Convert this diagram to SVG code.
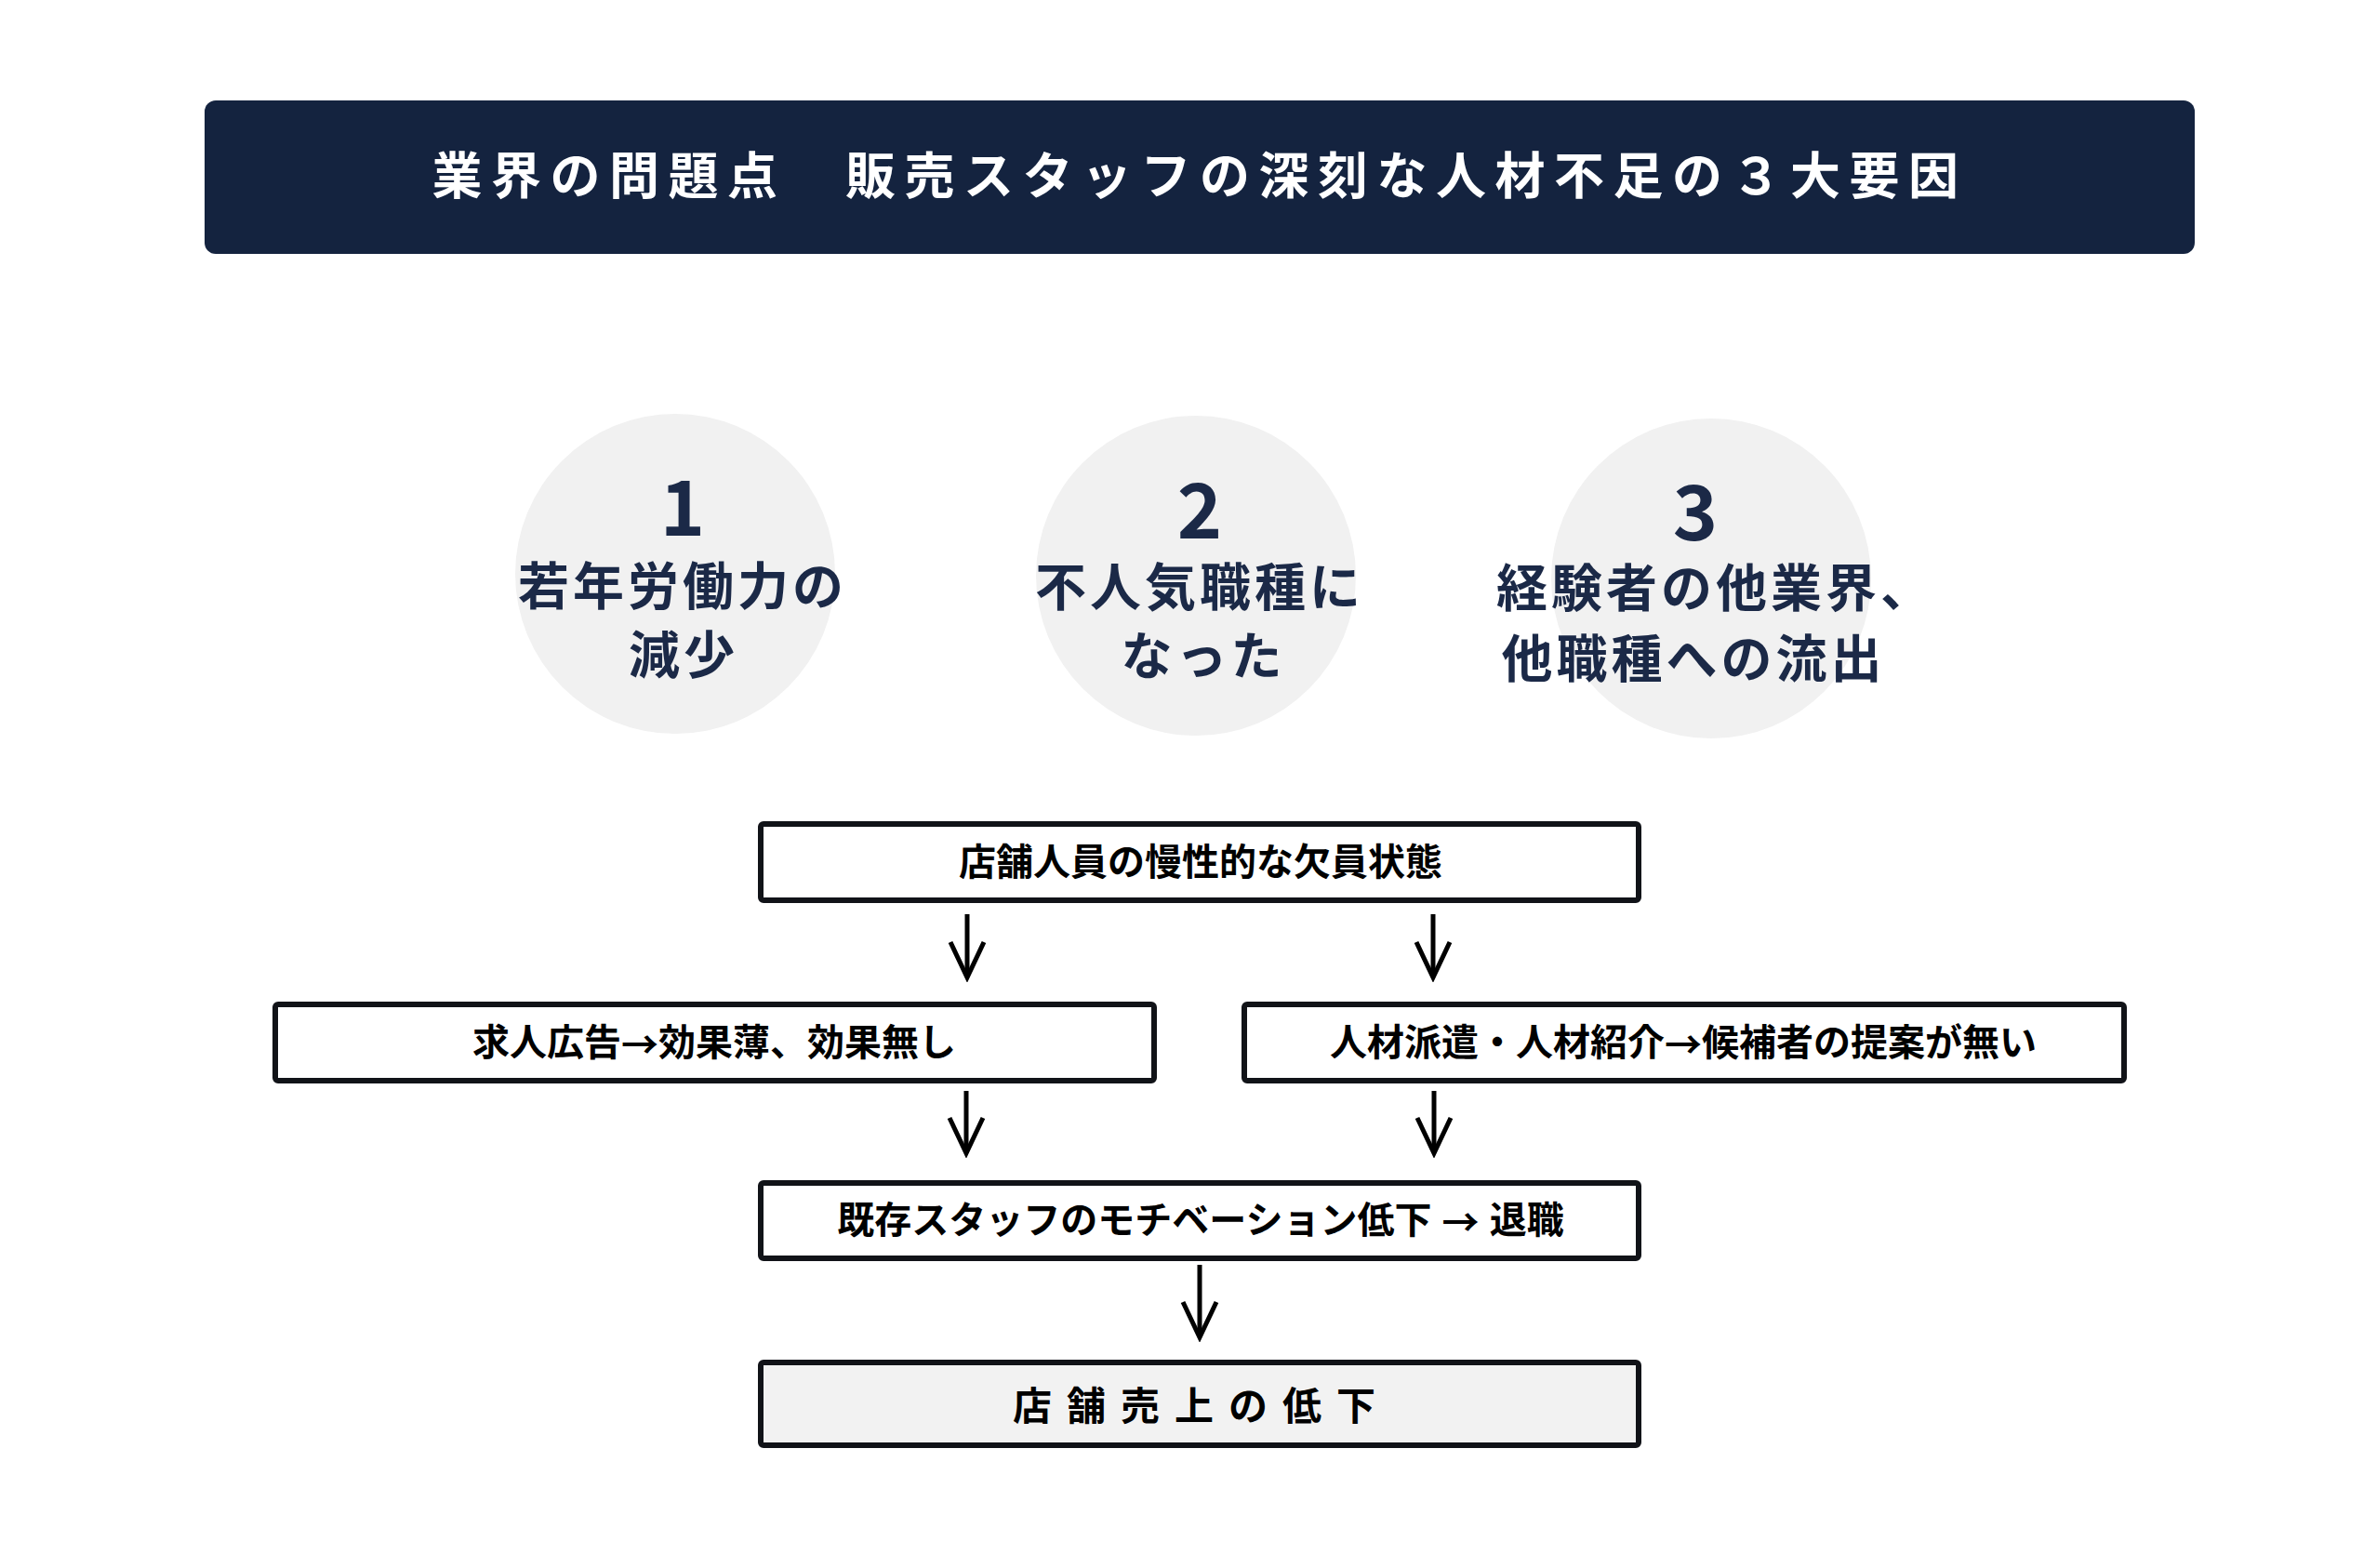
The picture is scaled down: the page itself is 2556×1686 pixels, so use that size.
<svg xmlns="http://www.w3.org/2000/svg" width="2556" height="1686" viewBox="0 0 2556 1686">
<style>
text{font-family:"Liberation Sans","Noto Sans CJK JP",sans-serif;font-weight:bold}
.cjk{font-family:"Noto Sans CJK JP","Liberation Sans",sans-serif}
.title{fill:#ffffff;font-size:54px;letter-spacing:9.5px}
.circ{fill:#f1f1f1}
.num{fill:#1b2947;font-size:82px;font-family:"Noto Sans CJK JP",sans-serif}
.ct{fill:#1b2947;font-size:55px;letter-spacing:4px}
.box{fill:#ffffff;stroke:#111318;stroke-width:6}
.box.last{fill:#f2f2f2}
.bt{fill:#000000;font-size:40px}
.bt.last{font-size:42px;letter-spacing:16px}
.conn line{stroke:#000;stroke-width:5}
</style>
<defs>
<marker id="ah" markerUnits="userSpaceOnUse" markerWidth="50" markerHeight="50" viewBox="-45 -25 50 50" refX="0" refY="0" orient="auto">
<path d="M-38 -18 L0 0 L-38 18" fill="none" stroke="#000" stroke-width="5"/>
</marker>
</defs>
<rect width="2556" height="1686" fill="#ffffff"/>
<g id="header">
<rect x="220" y="108" width="2140" height="165" rx="12" fill="#14233f"/>
<text class="title" x="1290" y="190" text-anchor="middle" dominant-baseline="central">業界の問題点　販売スタッフの深刻な人材不足の３大要因</text>
</g>
<g id="factor1">
<circle class="circ" cx="726" cy="617" r="172"/>
<text class="num" x="734" y="576" text-anchor="middle">1</text>
<text class="ct" x="734" y="631" text-anchor="middle" dominant-baseline="central">若年労働力の</text>
<text class="ct" x="735" y="705" text-anchor="middle" dominant-baseline="central">減少</text>
</g>
<g id="factor2">
<circle class="circ" cx="1286" cy="619" r="172"/>
<text class="num" x="1290" y="579" text-anchor="middle">2</text>
<text class="ct" x="1290" y="632" text-anchor="middle" dominant-baseline="central">不人気職種に</text>
<text class="ct" x="1294" y="706" text-anchor="middle" dominant-baseline="central">なった</text>
</g>
<g id="factor3">
<circle class="circ" cx="1840" cy="622" r="172"/>
<text class="num" x="1823" y="581" text-anchor="middle">3</text>
<text class="ct" x="1845" y="633" text-anchor="middle" dominant-baseline="central">経験者の他業界、</text>
<text class="ct" x="1821" y="709" text-anchor="middle" dominant-baseline="central">他職種への流出</text>
</g>
<g id="box-shortage">
<rect class="box" x="818" y="886" width="944" height="82" rx="3"/>
<text class="bt" x="1291" y="927" text-anchor="middle" dominant-baseline="central">店舗人員の慢性的な欠員状態</text>
</g>
<g id="box-ads">
<rect class="box" x="296" y="1080" width="945" height="82" rx="3"/>
<text class="bt" x="768" y="1121" text-anchor="middle" dominant-baseline="central">求人広告<tspan class="cjk">→</tspan>効果薄、効果無し</text>
</g>
<g id="box-agency">
<rect class="box" x="1338" y="1080" width="946" height="82" rx="3"/>
<text class="bt" x="1810" y="1121" text-anchor="middle" dominant-baseline="central">人材派遣・人材紹介<tspan class="cjk">→</tspan>候補者の提案が無い</text>
</g>
<g id="box-motivation">
<rect class="box" x="818" y="1272" width="944" height="81" rx="3"/>
<text class="bt" x="1291" y="1312" text-anchor="middle" dominant-baseline="central">既存スタッフのモチベーション低下 <tspan class="cjk">→</tspan> 退職</text>
</g>
<g id="box-sales">
<rect class="box last" x="818" y="1465" width="944" height="89" rx="3"/>
<text class="bt last" x="1292" y="1512" text-anchor="middle" dominant-baseline="central">店舗売上の低下</text>
</g>
<g id="connectors" class="conn">
<line x1="1040" y1="983" x2="1040" y2="1051" marker-end="url(#ah)"/>
<line x1="1541" y1="983" x2="1541" y2="1051" marker-end="url(#ah)"/>
<line x1="1039" y1="1173" x2="1039" y2="1240" marker-end="url(#ah)"/>
<line x1="1542" y1="1173" x2="1542" y2="1240" marker-end="url(#ah)"/>
<line x1="1290" y1="1360" x2="1290" y2="1438" marker-end="url(#ah)"/>
</g>
</svg>
